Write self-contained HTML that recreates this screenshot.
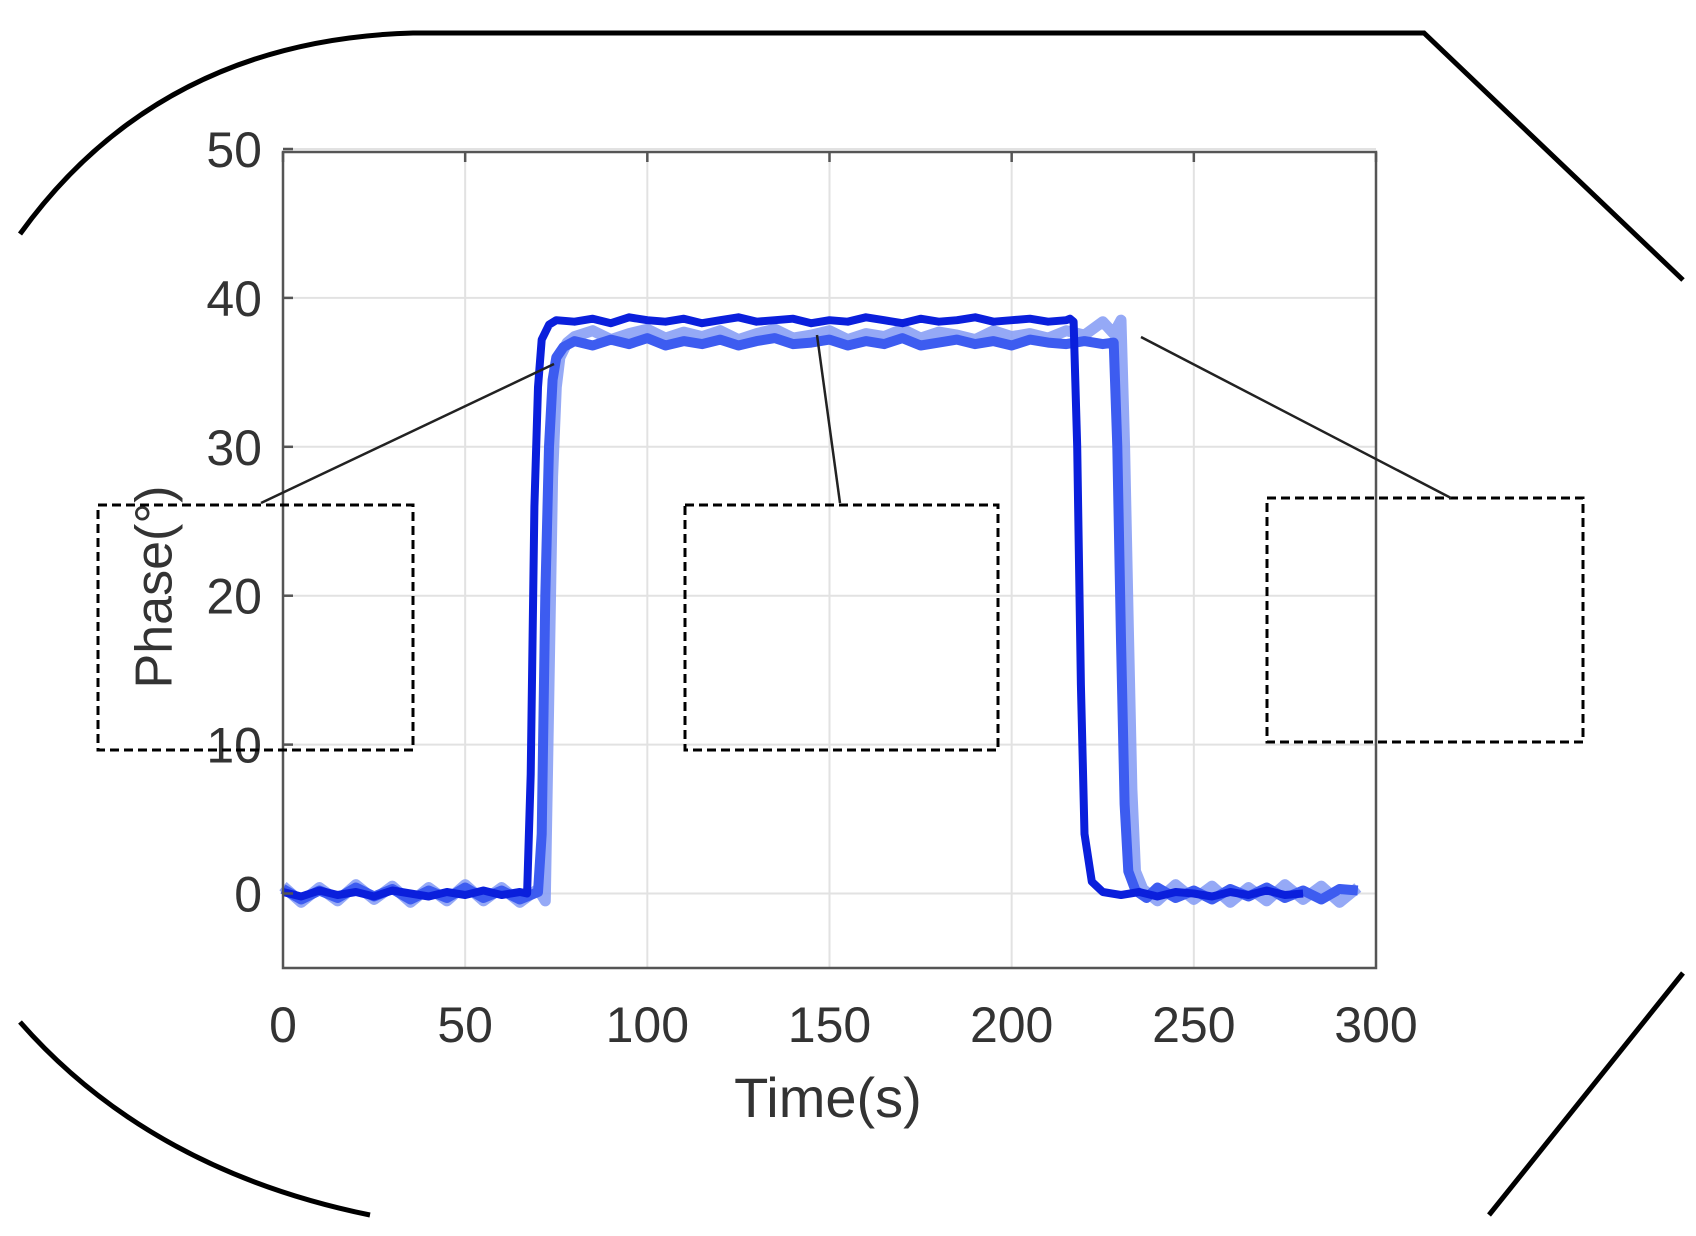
<!DOCTYPE html>
<html><head><meta charset="utf-8">
<style>
html,body{margin:0;padding:0;background:#fff;}
svg{display:block;}
text{font-family:"Liberation Sans",sans-serif;fill:#333;}
</style></head>
<body>
<svg id="chart" width="1696" height="1236" viewBox="0 0 1696 1236">
  <g fill="none" stroke="#000" stroke-width="5">
    <path d="M20,234 Q160,40 413,33 L1424,33 L1683,280"/>
    <path d="M1683,973 L1489,1215"/>
    <path d="M20,1022 Q150,1170 370,1215"/>
  </g>
  <g id="grid"></g>
  <g id="series"></g>
  <rect x="283" y="152" width="1093" height="816" fill="none" stroke="#555" stroke-width="2.5"/>
  <g id="ticks"></g>
  <text x="158" y="587" font-size="52" text-anchor="middle" transform="rotate(-90 158 587)" dominant-baseline="middle">Phase(°)</text>
  <text x="828" y="1117" font-size="56" text-anchor="middle">Time(s)</text>
  <g fill="none" stroke="#000" stroke-width="3" stroke-dasharray="9,5">
    <rect x="98" y="505" width="315" height="245"/>
    <rect x="685" y="505" width="313" height="245"/>
    <rect x="1267" y="498" width="316" height="244"/>
  </g>
  <g stroke="#222" stroke-width="2.5">
    <line x1="261" y1="503" x2="554" y2="364"/>
    <line x1="840" y1="503" x2="817" y2="335"/>
    <line x1="1451" y1="498" x2="1141" y2="337"/>
  </g>
</svg>
<script>
const xTicks = [0,50,100,150,200,250,300];
const yTicks = [0,10,20,30,40,50];
const darkT = [0,5,10,15,20,25,30,35,40,45,50,55,60,65,67,68,69,70,71,73,75,80,85,90,95,100,105,110,115,120,125,130,135,140,145,150,155,160,165,170,175,180,185,190,195,200,205,210,215,216,217,218,219,220,222,225,230,235,240,245,250,255,260,265,270,275,280];
const darkV = [0.1,-0.2,0.2,-0.1,0.1,-0.2,0.2,0,-0.2,0.1,-0.1,0.2,-0.1,0.1,0,8,26,34,37.2,38.2,38.5,38.4,38.6,38.3,38.7,38.5,38.4,38.6,38.3,38.5,38.7,38.4,38.5,38.6,38.3,38.5,38.4,38.7,38.5,38.3,38.6,38.4,38.5,38.7,38.4,38.5,38.6,38.4,38.5,38.6,38.4,30,14,4,0.8,0.1,-0.1,0.1,-0.2,0.1,0,-0.2,0.1,-0.1,0.2,-0.1,0];
const medT = [0,5,10,15,20,25,30,35,40,45,50,55,60,65,70,71,72,73,74,75,77,80,85,90,95,100,105,110,115,120,125,130,135,140,145,150,155,160,165,170,175,180,185,190,195,200,205,210,215,220,225,228,229,230,231,232,234,237,240,245,250,255,260,265,270,275,280,285,290,295];
const medV = [0.3,-0.4,0.2,-0.3,0.4,-0.2,0.3,-0.4,0.2,-0.3,0.4,-0.3,0.2,-0.4,0.1,4,20,30,34.5,36,36.7,37.1,36.8,37.2,36.9,37.3,36.8,37.1,36.9,37.2,36.8,37.1,37.3,36.9,37,37.2,36.8,37.1,36.9,37.3,36.8,37,37.2,36.9,37.1,36.8,37.2,37,36.9,37.1,36.9,37,30,17,6,1.5,0.2,-0.3,0.4,-0.3,0.2,-0.4,0.3,-0.2,0.4,-0.3,0.2,-0.4,0.3,0.2];
const lightT = [0,5,10,15,20,25,30,35,40,45,50,55,60,65,70,72,73,74,75,76,78,80,85,90,95,100,105,110,115,120,125,130,135,140,145,150,155,160,165,170,175,180,185,190,195,200,205,210,215,220,225,228,230,231,232,233,234,236,240,245,250,255,260,265,270,275,280,285,290,295];
const lightV = [0.5,-0.6,0.4,-0.5,0.6,-0.4,0.5,-0.6,0.4,-0.5,0.6,-0.5,0.4,-0.6,0.3,-0.5,14,28,34,36,37,37.4,37.8,37.2,37.6,37.9,37.3,37.7,37.4,37.8,37.2,37.6,37.9,37.3,37.5,37.8,37.2,37.6,37.4,37.9,37.3,37.7,37.5,37.2,37.8,37.4,37.6,37.3,37.8,37.5,38.4,37.6,38.5,30,18,7,1.5,0.3,-0.5,0.6,-0.4,0.5,-0.6,0.4,-0.5,0.6,-0.4,0.5,-0.6,0.4];

const X0=283, X1=1376, Y0=893.5, YPER=14.89;
function xs(t){return X0+(X1-X0)*t/300;}
function ys(v){return Y0-v*YPER;}
const NS='http://www.w3.org/2000/svg';
const grid=document.getElementById('grid'), ticks=document.getElementById('ticks'), series=document.getElementById('series');
function mk(tag,attrs,parent){const e=document.createElementNS(NS,tag);for(const k in attrs)e.setAttribute(k,attrs[k]);parent.appendChild(e);return e;}
xTicks.forEach(t=>{
  const g=mk('line',{x1:xs(t),x2:xs(t),y1:152,y2:968,stroke:'#e2e2e2','stroke-width':2},grid);
  
  
  const tk=mk('line',{x1:xs(t),x2:xs(t),y1:152,y2:162,stroke:'#555','stroke-width':2.5},ticks);
  
  
  const tx=mk('text',{x:xs(t),y:1042,'font-size':50,'text-anchor':'middle'},ticks);
  tx.textContent=t;
  
  
});
yTicks.forEach(v=>{
  const g=mk('line',{x1:283,x2:1376,y1:ys(v),y2:ys(v),stroke:'#e2e2e2','stroke-width':2},grid);
  
  
  const tk=mk('line',{x1:283,x2:293,y1:ys(v),y2:ys(v),stroke:'#555','stroke-width':2.5},ticks);
  
  
  const tx=mk('text',{x:262,y:ys(v)+18,'font-size':50,'text-anchor':'end'},ticks);
  tx.textContent=v;
  
  
});
function drawLine(T,V,color,w,op,name){
  const d=T.map((t,i)=>(i?'L':'M')+xs(t).toFixed(1)+','+ys(V[i]).toFixed(1)).join(' ');
  const p=mk('path',{d:d,fill:'none',stroke:color,'stroke-width':w,'stroke-opacity':op,'stroke-linejoin':'round'},series);
  
  
}
drawLine(lightT,lightV,'#8aa0f5',11,0.9,'series-light');
drawLine(medT,medV,'#3d5cf0',10,1,'series-medium');
drawLine(darkT,darkV,'#0a1fdc',8,1,'series-dark');
</script>
</body></html>
